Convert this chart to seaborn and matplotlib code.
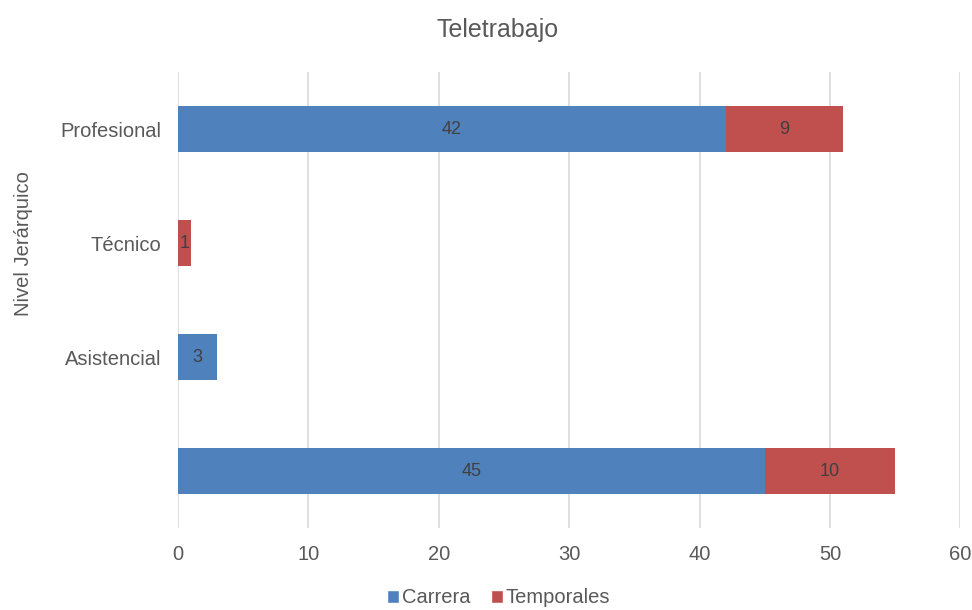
import matplotlib
matplotlib.use("Agg")
import matplotlib.pyplot as plt
import pandas as pd
import seaborn as sns
from matplotlib.patches import Patch

categorias = ["Profesional", "Técnico", "Asistencial", " "]
carrera = [42, 0, 3, 45]
temporales = [9, 1, 0, 10]

azul = "#4F81BD"
rojo = "#C0504D"
gris = "#595959"

sns.set_theme(style="white")
plt.rcParams["font.family"] = ["Liberation Sans", "DejaVu Sans"]

df = pd.DataFrame({"nivel": categorias, "Carrera": carrera, "Temporales": temporales})
df["total"] = df["Carrera"] + df["Temporales"]

fig = plt.figure(figsize=(9.72, 6.10), dpi=100)
ax = fig.add_axes([0.183, 0.134, 0.805, 0.748])

sns.barplot(data=df, x="total", y="nivel", color=rojo, saturation=1, width=0.4,
            orient="h", ax=ax, zorder=3, linewidth=0)
sns.barplot(data=df, x="Carrera", y="nivel", color=azul, saturation=1, width=0.4,
            orient="h", ax=ax, zorder=3, linewidth=0)

# etiquetas de datos centradas en cada segmento
for i, row in df.iterrows():
    if row["Carrera"] > 0:
        ax.text(row["Carrera"] / 2, i, str(row["Carrera"]), ha="center", va="center",
                fontsize=13, color="#404040", zorder=4)
    if row["Temporales"] > 0:
        ax.text(row["Carrera"] + row["Temporales"] / 2, i, str(row["Temporales"]),
                ha="center", va="center", fontsize=13, color="#404040", zorder=4)

ax.set_xlim(0, 60)
ax.set_xticks(range(0, 61, 10))
ax.set_ylim(3.5, -0.5)
ax.grid(axis="x", color="#D9D9D9", linewidth=1.2, zorder=0)
ax.grid(axis="y", visible=False)
for s in ax.spines.values():
    s.set_visible(False)
ax.tick_params(axis="both", length=0, labelsize=14.5, labelcolor=gris)
ax.tick_params(axis="y", pad=12)
ax.tick_params(axis="x", pad=12)

ax.set_xlabel("")
ax.set_ylabel("Nivel Jerárquico", fontsize=14.5, color=gris)
ax.yaxis.set_label_coords(-0.185, 0.625)

fig.suptitle("Teletrabajo", x=0.512, y=0.97, fontsize=18, color=gris)

handles = [Patch(facecolor=azul, label="Carrera"), Patch(facecolor=rojo, label="Temporales")]
fig.legend(handles=handles, loc="center", bbox_to_anchor=(0.513, 0.02), ncol=2,
           frameon=False, fontsize=14.5, labelcolor=gris, handlelength=0.6,
           handleheight=0.6, handletextpad=0.15, columnspacing=1.0)

fig.savefig("out.png", dpi=100)
